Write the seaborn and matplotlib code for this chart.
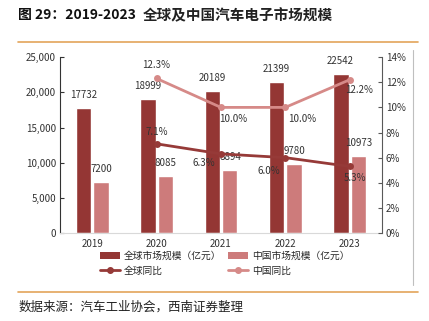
import matplotlib
matplotlib.use("Agg")
import matplotlib.pyplot as plt
from matplotlib.lines import Line2D
from matplotlib.patches import Patch
import seaborn as sns
import pandas as pd
import numpy as np

years = ["2019", "2020", "2021", "2022", "2023"]
global_size = [17732, 18999, 20189, 21399, 22542]
china_size = [7200, 8085, 8894, 9780, 10973]
global_yoy = [None, 7.1, 6.3, 6.0, 5.3]
china_yoy = [None, 12.3, 10.0, 10.0, 12.2]

left_ticks = [0, 5000, 10000, 15000, 20000, 25000]
right_ticks = [0, 2, 4, 6, 8, 10, 12, 14]

DARK = "#943634"
LIGHT = "#CD7B7B"
LINE_DARK = "#963A38"
LINE_LIGHT = "#D68A88"
ORANGE = "#E3A45A"

sns.set_theme(style="white")
plt.rcParams["font.family"] = ["Noto Sans CJK SC", "DejaVu Sans"]

fig = plt.figure(figsize=(4.29, 3.21), dpi=100)
ax = fig.add_axes([0.140, 0.274, 0.750, 0.548])

df = pd.DataFrame({
    "year": years * 2,
    "value": global_size + china_size,
    "series": ["全球市场规模（亿元）"] * 5 + ["中国市场规模（亿元）"] * 5,
})
sns.barplot(data=df, x="year", y="value", hue="series", ax=ax,
            palette=[DARK, LIGHT], width=0.54, gap=0.12, legend=False,
            saturation=1)

ax.set_ylim(0, 25000)
ax.set_xlim(-0.5, 4.5)
ax.set_yticks(left_ticks)
ax.set_yticklabels([f"{v:,}" for v in left_ticks], fontsize=7, color="#333333")
ax.set_xticks(range(len(years)))
ax.set_xticklabels(years, fontsize=7, color="#333333")
ax.set_xlabel("")
ax.set_ylabel("")
for s in ["top", "right"]:
    ax.spines[s].set_visible(False)
ax.spines["left"].set_color("#333333")
ax.spines["left"].set_linewidth(0.8)
ax.spines["bottom"].set_color("#D9D9D9")
ax.spines["bottom"].set_linewidth(0.8)
ax.tick_params(axis="y", direction="in", length=3, width=0.8, color="#333333", pad=3)
ax.tick_params(axis="x", length=0, pad=4)

# value labels above bars
for i, v in enumerate(global_size):
    ax.annotate(str(v), (i - 0.14, v), xytext=(0, 6), textcoords="offset points",
                ha="center", va="bottom", fontsize=7, color="#333333")
for i, v in enumerate(china_size):
    ax.annotate(str(v), (i + 0.14, v), xytext=(0, 6), textcoords="offset points",
                ha="center", va="bottom", fontsize=7, color="#333333")

ax2 = ax.twinx()
ax2.set_ylim(0, 14)
ax2.set_yticks(right_ticks)
ax2.set_yticklabels([f"{v}%" for v in right_ticks], fontsize=7, color="#333333")
for s in ["top", "left", "bottom"]:
    ax2.spines[s].set_visible(False)
ax2.spines["right"].set_color("#595959")
ax2.spines["right"].set_linewidth(0.8)
ax2.tick_params(axis="y", direction="in", length=3, width=0.8, color="#595959", pad=3)

xs = np.arange(1, 5)
sns.lineplot(x=xs, y=global_yoy[1:], ax=ax2, color=LINE_DARK, lw=2,
             marker="o", markersize=5, markeredgewidth=0)
sns.lineplot(x=xs, y=china_yoy[1:], ax=ax2, color=LINE_LIGHT, lw=2,
             marker="o", markersize=5, markeredgewidth=0)

g_off = [(0, 5, "center", "bottom"), (-12, -3, "center", "top"),
         (-12, -6, "center", "top"), (4, -5, "center", "top")]
c_off = [(0, 6, "center", "bottom"), (9, -5, "center", "top"),
         (12, -5, "center", "top"), (7, -4, "center", "top")]
for x, v, (dx, dy, ha, va) in zip(xs, global_yoy[1:], g_off):
    ax2.annotate(f"{v:.1f}%", (x, v), xytext=(dx, dy), textcoords="offset points",
                 ha=ha, va=va, fontsize=7, color="#333333")
for x, v, (dx, dy, ha, va) in zip(xs, china_yoy[1:], c_off):
    ax2.annotate(f"{v:.1f}%", (x, v), xytext=(dx, dy), textcoords="offset points",
                 ha=ha, va=va, fontsize=7, color="#333333")

# legend: column-major order gives bars on the first row, lines on the second
handles = [
    Patch(facecolor=DARK, edgecolor="none", label="全球市场规模（亿元）"),
    Line2D([], [], color=LINE_DARK, lw=2, marker="o", markersize=4, label="全球同比"),
    Patch(facecolor=LIGHT, edgecolor="none", label="中国市场规模（亿元）"),
    Line2D([], [], color=LINE_LIGHT, lw=2, marker="o", markersize=4, label="中国同比"),
]
fig.legend(handles=handles, ncol=2, loc="center left", bbox_to_anchor=(0.233, 0.180),
           frameon=False, fontsize=7, handlelength=2.1, handleheight=0.75,
           columnspacing=0.7, labelspacing=0.45, handletextpad=0.35,
           borderpad=0, borderaxespad=0)

# header and footer
fig.text(0.042, 0.953, "图 29：2019-2023", fontsize=10,
         fontweight="bold", ha="left", va="center", color="#111111")
fig.text(0.333, 0.953, "全球及中国汽车电子市场规模", fontsize=10.5,
         fontweight="bold", ha="left", va="center", color="#222222")
fig.add_artist(Line2D([0.042, 0.975], [0.870, 0.870], color=ORANGE, lw=1.2))
fig.add_artist(Line2D([0.963, 0.963], [0.845, 0.112], color="#BFBFBF", lw=0.8))
fig.add_artist(Line2D([0.042, 0.975], [0.090, 0.090], color=ORANGE, lw=1.2))
fig.text(0.042, 0.043, "数据来源：汽车工业协会，西南证券整理", fontsize=9,
         ha="left", va="center", color="#222222", fontstyle="italic")

fig.savefig("out.png", dpi=100)
